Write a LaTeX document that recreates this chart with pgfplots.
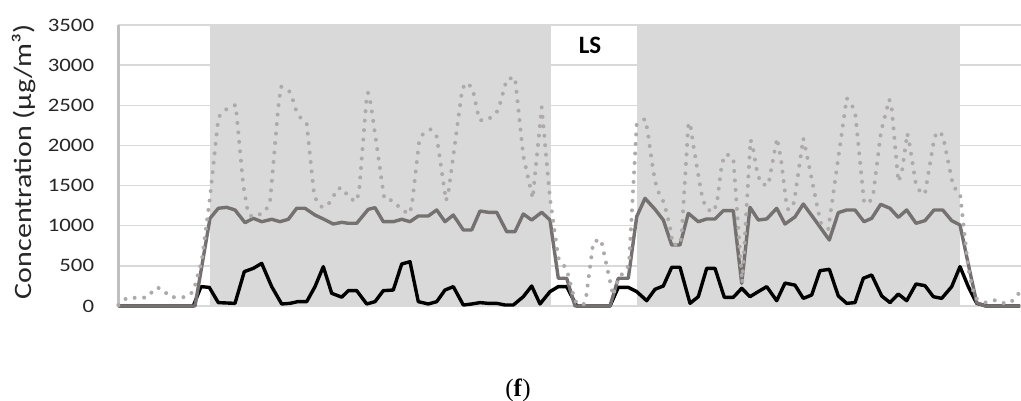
\documentclass[border=0pt]{standalone}
\usepackage{fontspec}
\setmainfont{Carlito}
\newfontfamily\axisfont{Carlito}[FakeStretch=1.2]
\newfontfamily\capfont{Liberation Serif}
\usepackage{pgfplots}
\pgfplotsset{compat=1.18}

\definecolor{gridgray}{HTML}{D9D9D9}
\definecolor{axisgray}{HTML}{BFBFBF}
\definecolor{dotgray}{HTML}{AEAAAA}
\definecolor{midgray}{HTML}{767171}
\definecolor{txt}{HTML}{262626}

\begin{document}
\begin{tikzpicture}
\useasboundingbox (0,0) rectangle (1021pt,401pt);
\begin{axis}[
    at={(118.3pt,95pt)}, anchor=south west,
    scale only axis, width=902.7pt, height=281pt,
    xmin=118.3, xmax=1021, ymin=0, ymax=3500,
    ytick={0,500,...,3500}, xtick=\empty,
    axis lines=left, axis line style={-},
    x axis line style={draw=gridgray, line width=1.5pt},
    y axis line style={draw=axisgray, line width=3pt},
    ymajorgrids, grid style={draw=gridgray, line width=1.5pt},
    major tick length=0pt,
    /pgf/number format/assume math mode=true,
    /pgf/number format/1000 sep={},
    yticklabel style={font=\axisfont\fontsize{19}{19}\selectfont, text=txt,
        anchor=east, inner sep=0pt, xshift=-24pt},
    ylabel={Concentration (µg/m³)},
    every axis y label/.style={at={(axis description cs:-0.0959,0.514)},
        rotate=90, anchor=base, text=txt,
        font=\axisfont\fontsize{25}{25}\selectfont},
    clip=false,
]
% shaded periods
\addplot[fill=gridgray, draw=none] coordinates {(210,3500) (551,3500)} \closedcycle;
\addplot[fill=gridgray, draw=none] coordinates {(636.7,3500) (960,3500)} \closedcycle;

% black series
\addplot[black, line width=3.4pt, line join=round] coordinates {
(118.3,0) (193.3,0) (201,241) (209.3,232) (218.3,42) (235,33) (244.3,428) (253.3,469)
(261.7,531) (271.7,241) (281.7,25) (290,33) (297.7,54) (306.7,54) (315,241) (323.3,490)
(331.7,158) (341.7,110) (348.3,191) (356.7,191) (366.7,25) (375,54) (383.3,191) (393.3,199)
(401.7,523) (410,552) (418.3,54) (428.3,25) (436.7,54) (445,199) (453.3,241) (463.3,12)
(471.7,25) (480,42) (488.3,33) (496.7,33) (505,12) (513.3,12) (523.3,116) (531.7,249)
(540,25) (550,179) (558.3,241) (566.7,241) (576.7,0) (610,0) (618.3,232) (628.3,232)
(636.7,179) (646.7,66) (655,208) (663.3,249) (671.7,482) (680,482) (690,33) (698.3,116)
(706.7,469) (715,469) (724.3,108) (733.3,108) (741.7,220) (750,116) (758.3,179) (766.7,241)
(776.7,66) (785,285) (795,260) (803.3,95) (811.7,137) (820,440) (829.3,457) (838.3,125)
(846.7,33) (855,42) (863.3,345) (871.7,386) (881.7,125) (890,42) (898.3,149) (906.7,66)
(916,274) (925,253) (933.3,116) (941.7,95) (951.7,241) (960,490) (968.3,241) (976.7,33)
(986.7,0) (1020,0)
};

% medium grey series
\addplot[midgray, line width=3.4pt, line join=round] coordinates {
(118.3,0) (195,0) (210,1092) (218.3,1217) (226.7,1229) (235,1196) (245,1038) (253.3,1092)
(261.7,1050) (271.7,1080) (280,1050) (288.3,1080) (296.7,1217) (305,1217) (315,1133)
(323.3,1084) (333.3,1021) (341.7,1042) (348.3,1030) (356.7,1030) (368.3,1204) (375,1225)
(383.3,1050) (393.3,1050) (401.7,1080) (410,1050) (418.3,1121) (428.3,1121) (436.7,1196)
(445,1050) (453.3,1133) (463.3,947) (471.7,947) (480,1183) (488.3,1167) (496.7,1167)
(506.7,926) (515,926) (523.3,1146) (531.7,1071) (541.7,1167) (550,1071) (558.3,345)
(566.7,345) (575,0) (610,0) (618.3,345) (628.3,345) (636.7,1113) (645,1341) (655,1204)
(663.3,1071) (671.7,760) (680,760) (688.3,1154) (698.3,1050) (706.7,1084) (715,1084)
(723.3,1187) (733.3,1187) (741.7,282) (750,1229) (758.3,1071) (766.7,1084) (776.7,1217)
(785,1021) (795,1110) (803.3,1270) (815,1071) (829.3,822) (838.3,1163) (846.7,1196)
(855,1196) (864,1050) (871.7,1092) (880.7,1266) (890,1217) (898.3,1104) (906.7,1196)
(916,1030) (925,1063) (934,1196) (942.7,1196) (951.7,1063) (960,1009) (968.3,520)
(976.7,40) (985,0) (1020,0)
};

% dotted light grey series
\addplot[dotgray, line width=4pt, line cap=round, line join=round,
    dash pattern=on 0pt off 9.5pt] coordinates {
(118.3,10) (126.7,100) (147,105) (156,230) (162,215) (170,110) (186,110) (193.3,180)
(201.7,560) (210,1350) (218.3,2340) (222.3,2420) (231,2483) (235.7,2504) (243.3,1500)
(248,1160) (252,1110) (258.3,1133) (265,1175) (270,1290) (278.3,2483) (281,2732)
(289,2682) (293.3,2553) (297,2400) (301,2338) (306.7,2275) (314.3,1362) (321,1237)
(326.7,1237) (332.3,1341) (337.7,1466) (343.3,1466) (348.3,1354) (356,1300) (359,1412)
(366.7,2607) (368,2657) (370.7,2524) (384.3,1333) (393.3,1312) (400.7,1208) (409,1146)
(411.7,1237) (419,2034) (423.3,2151) (430.7,2200) (436.7,2109) (446,1312) (448.3,1403)
(462.3,2711) (467.3,2782) (472.7,2703) (479.3,2317) (484.3,2308) (492.7,2358) (498.3,2441)
(506.7,2823) (515,2848) (523.3,1870) (532.7,1341) (541.7,2475) (550,1340) (558.3,600)
(566.7,455) (575,60) (583.3,10) (586,100) (593.3,800) (601,830) (610,310) (613,130)
(618.3,345) (626.7,460) (629,520) (636.7,2260) (645,2330) (647.5,2190) (653,1700)
(655.7,1530) (659,1403) (664.3,1279) (666.7,1154) (670,988) (672.7,765) (680,765)
(681.7,905) (688.3,2250) (690,2285) (693.3,2010) (698.3,1630) (702,1370) (705.5,1230)
(712,1167) (716.7,1260) (722,1785) (726.3,1895) (733.3,1840) (742.2,290) (750.5,2070)
(752.5,2000) (757.7,1630) (762,1515) (768.3,1505) (777,2090) (781,1830) (786,1313)
(788.3,1196) (794,1287) (803.3,2088) (805.7,1951) (818.3,1175) (821,1030) (828.3,960)
(846.7,2590) (852.7,2480) (855.5,2370) (864,1300) (869,1275) (873.3,1400) (881,2170)
(889.3,2574) (891.7,2462) (898.3,1549) (901.7,1653) (907.3,2150) (909.3,2034) (916,1507)
(921.7,1395) (925,1403) (934,2068) (936.7,2171) (942.7,2130) (953.3,1486) (960,1403)
(968.3,469) (972.7,208) (976,95) (986,42) (996,75) (1006,25) (1014,75) (1020,180)
};

\node[font=\fontsize{25}{25}\selectfont\bfseries, text=black] at (axis cs:590,3250) {LS};
\end{axis}
\node[anchor=base, font=\capfont\fontsize{25}{25}\selectfont] at (518pt,4.3pt) {(\textbf{f})};
\end{tikzpicture}
\end{document}
